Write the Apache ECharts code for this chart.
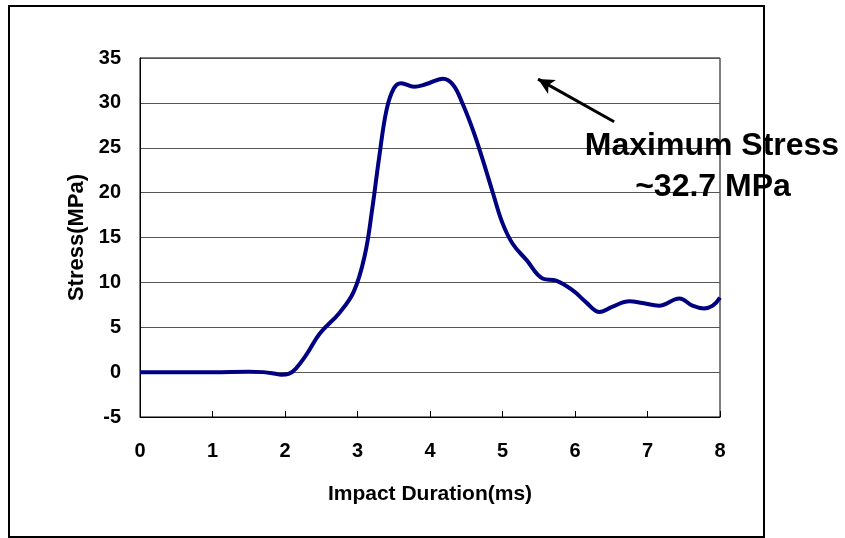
<!DOCTYPE html>
<html>
<head>
<meta charset="utf-8">
<script src="https://cdn.jsdelivr.net/npm/echarts@6/dist/echarts.min.js"></script>
<style>
html,body{margin:0;padding:0;background:#fff;}
#chart{width:845px;height:538px;}
</style>
</head>
<body>
<div id="chart"></div>
<script>
// Impact duration (ms)
var timeMs = [0, 0.5, 1.0, 1.5, 1.7, 1.85, 1.95, 2.05, 2.15, 2.3, 2.48, 2.75, 2.95, 3.1, 3.2, 3.3, 3.4, 3.5, 3.6, 3.78, 3.95, 4.18, 4.32, 4.45, 4.6, 4.73, 4.87, 5.0, 5.14, 5.33, 5.56, 5.74, 5.97, 6.15, 6.34, 6.52, 6.75, 6.93, 7.16, 7.44, 7.62, 7.78, 7.9, 8.0];
// Stress (MPa)
var stressMPa = [0, 0, 0, 0.05, 0, -0.15, -0.3, -0.2, 0.4, 2.0, 4.3, 6.6, 9.0, 13.0, 18.0, 24.0, 29.2, 31.6, 32.2, 31.8, 32.1, 32.7, 32.0, 29.9, 26.8, 23.6, 19.9, 16.6, 14.3, 12.5, 10.4, 10.2, 9.1, 7.8, 6.7, 7.3, 7.9, 7.7, 7.4, 8.2, 7.4, 7.1, 7.4, 8.3];
// Annotation arrow (data coords): head, tail
var arrowHead = [5.49, 32.65];
var arrowTail = [6.54, 27.9];
var annotationLines = ['Maximum Stress', '~32.7 MPa'];
var xTitle = 'Impact Duration(ms)';
var yTitle = 'Stress(MPa)';

var seriesData = timeMs.map(function (t, i) { return [t, stressMPa[i]]; });
var FONT = '"Liberation Sans", Arial, sans-serif';

var chart = echarts.init(document.getElementById('chart'), null, {renderer: 'canvas'});
chart.setOption({
  animation: false,
  backgroundColor: '#fff',
  grid: {left: 140, top: 58, right: 125, bottom: 121, show: true, borderColor: '#000', borderWidth: 1, backgroundColor: 'transparent'},
  xAxis: {
    type: 'value', min: 0, max: 8, interval: 1,
    name: xTitle, nameLocation: 'middle', nameGap: 67,
    nameTextStyle: {fontFamily: FONT, fontWeight: 'bold', fontSize: 21, color: '#000'},
    axisLine: {show: true, onZero: false, lineStyle: {color: '#000', width: 1}},
    axisTick: {show: true, inside: true, length: 6, lineStyle: {color: '#000'}},
    axisLabel: {margin: 24, fontFamily: FONT, fontWeight: 'bold', fontSize: 20, color: '#000'},
    splitLine: {show: false}
  },
  yAxis: {
    type: 'value', min: -5, max: 35, interval: 5,
    name: yTitle, nameLocation: 'middle', nameGap: 40,
    nameTextStyle: {fontFamily: FONT, fontWeight: 'bold', fontSize: 22, color: '#000'},
    axisLine: {show: true, lineStyle: {color: '#000', width: 1}},
    axisTick: {show: false},
    axisLabel: {margin: 19, fontFamily: FONT, fontWeight: 'bold', fontSize: 20, color: '#000'},
    splitLine: {show: true, lineStyle: {color: '#555', width: 1}}
  },
  graphic: [
    {type: 'rect', shape: {x: 9, y: 6, width: 755, height: 531}, style: {fill: 'none', stroke: '#000', lineWidth: 2}, z: 100},
    {type: 'text', x: 712, y: 146, style: {text: annotationLines[0], font: 'bold 32px ' + FONT, fill: '#000', align: 'center', verticalAlign: 'middle'}, z: 101},
    {type: 'text', x: 713, y: 187, style: {text: annotationLines[1], font: 'bold 32px ' + FONT, fill: '#000', align: 'center', verticalAlign: 'middle'}, z: 101}
  ],
  series: [{
    type: 'line',
    data: seriesData,
    smooth: 0.4,
    showSymbol: false,
    lineStyle: {color: '#000080', width: 4},
    markLine: {
      silent: true,
      symbol: ['none', 'arrow'],
      symbolSize: [12, 16],
      label: {show: false},
      lineStyle: {color: '#000', width: 3, type: 'solid'},
      data: [[{coord: arrowTail}, {coord: arrowHead}]]
    }
  }]
});
</script>
</body>
</html>
